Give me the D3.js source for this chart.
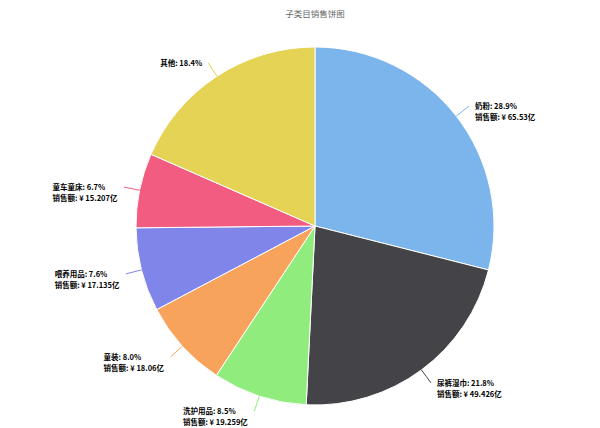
<!DOCTYPE html>
<html>
<head>
<meta charset="utf-8">
<script src="https://cdn.jsdelivr.net/npm/d3@7"></script>
<style>
  body { margin: 0; background: #fff; }
  svg { display: block; }
</style>
</head>
<body>
<div class="pie-chart"></div>
<script>
const categories = ["奶粉", "尿裤湿巾", "洗护用品", "童装", "喂养用品", "童车童床", "其他"];
const sales = [65.53, 49.426, 19.259, 18.06, 17.135, 15.207, 41.75];
const showSales = [true, true, true, true, true, true, false];
const colors = ["#7cb5ec", "#434348", "#90ed7d", "#f7a35c", "#8085e9", "#f15c80", "#e4d354"];

const width = 600;
const height = 428;
const cx = 315, cy = 226, radius = 179;
const labelRadius = 195;

const data = categories.map((name, i) => ({ name: name, value: sales[i], color: colors[i], showSales: showSales[i] }));
const total = d3.sum(data, d => d.value);

const svg = d3.select(".pie-chart")
  .append("svg")
  .attr("width", width)
  .attr("height", height)
  .style("font-family", "'Noto Sans CJK SC', 'Noto Sans', sans-serif");

svg.append("text")
  .attr("x", cx)
  .attr("y", 15)
  .attr("text-anchor", "middle")
  .attr("dominant-baseline", "middle")
  .attr("font-size", 8.5)
  .attr("fill", "#666")
  .text("子类目销售饼图");

const pie = d3.pie().sort(null).value(d => d.value);
const arc = d3.arc().innerRadius(0).outerRadius(radius);
const arcs = pie(data);

const g = svg.append("g").attr("transform", "translate(" + cx + "," + cy + ")");

g.selectAll(".slice")
  .data(arcs)
  .enter()
  .append("path")
  .attr("class", "slice")
  .attr("d", arc)
  .attr("fill", d => d.data.color)
  .attr("stroke", "#fff")
  .attr("stroke-width", 1);

// point on a circle of radius r at the slice's middle angle
const polar = (a, r) => [Math.sin(a) * r, -Math.cos(a) * r];

arcs.forEach(function (d) {
  const mid = (d.startAngle + d.endAngle) / 2;
  const side = Math.sin(mid) >= 0 ? 1 : -1;
  const edge = polar(mid, radius);
  const anchor = polar(mid, labelRadius);
  const bend = polar(mid, radius + 8);

  g.append("path")
    .attr("d", "M" + edge[0] + "," + edge[1] + " Q" + bend[0] + "," + bend[1] + " " + anchor[0] + "," + anchor[1])
    .attr("fill", "none")
    .attr("stroke", d.data.color)
    .attr("stroke-width", 1);

  const lines = [d.data.name + ": " + (d.data.value / total * 100).toFixed(1) + "%"];
  if (d.data.showSales) lines.push("销售额: ¥ " + d.data.value + "亿");

  const label = g.append("text")
    .attr("font-size", 7.5)
    .attr("font-weight", "bold")
    .attr("fill", "#000");

  label.selectAll("tspan")
    .data(lines)
    .enter()
    .append("tspan")
    .attr("x", 0)
    .attr("dy", (t, i) => i === 0 ? 0 : 11)
    .text(t => t);

  // left-hand labels: box's right edge sits next to the connector end
  const box = label.node().getBBox();
  const tx = side > 0 ? anchor[0] + 6 : anchor[0] - 6 - box.width;
  label.attr("transform", "translate(" + tx + "," + (anchor[1] + 3) + ")");
});
</script>
</body>
</html>
